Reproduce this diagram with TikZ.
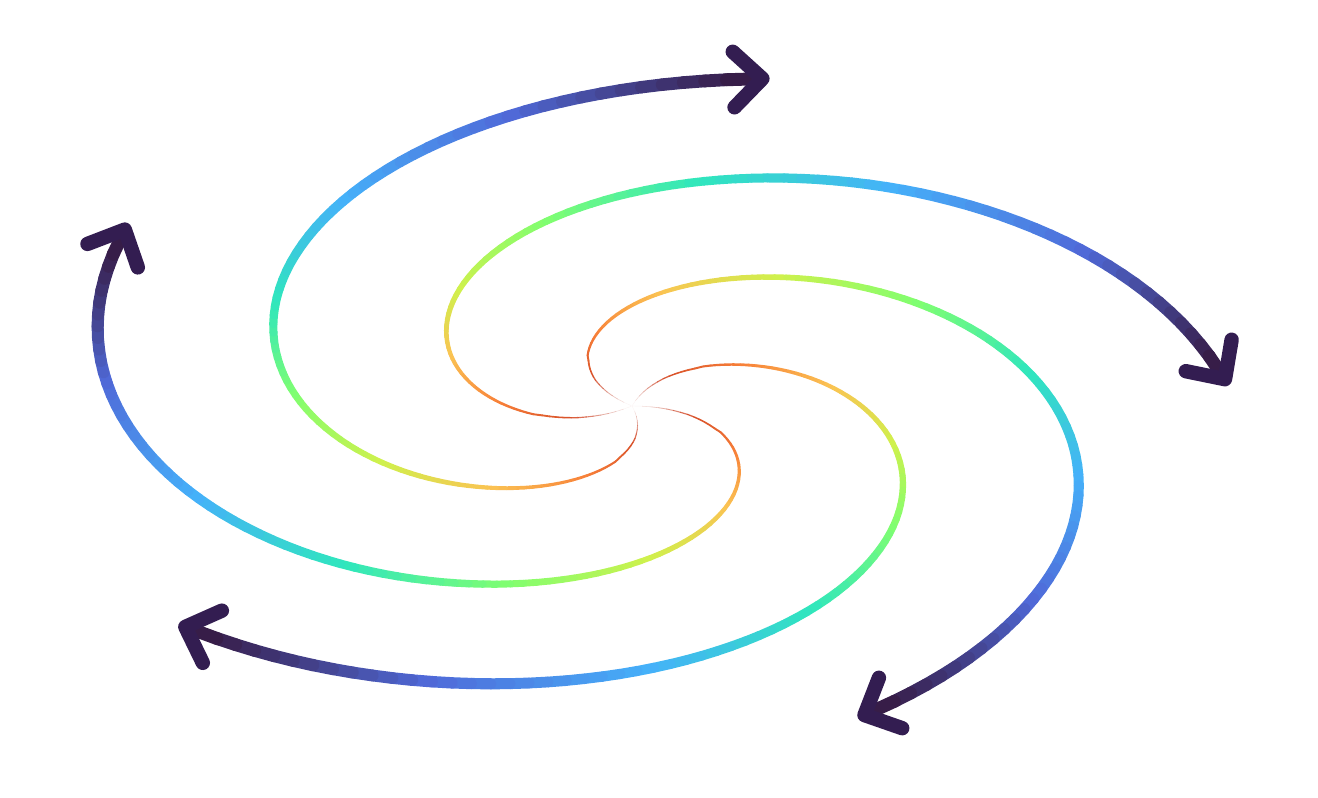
\documentclass[tikz,border=0pt]{standalone}
\usepackage{xcolor}
\usepackage{tikz}
\usetikzlibrary{calc}

% turbo colour map, dark end first
\definecolor{tb0}{HTML}{30123B}
\definecolor{tb1}{HTML}{4662D7}
\definecolor{tb2}{HTML}{36AAF9}
\definecolor{tb3}{HTML}{1AE4B6}
\definecolor{tb4}{HTML}{72FE5E}
\definecolor{tb5}{HTML}{C8EF34}
\definecolor{tb6}{HTML}{FABA39}
\definecolor{tb7}{HTML}{F66B19}
\definecolor{tb8}{HTML}{CB2A04}
\definecolor{tb9}{HTML}{7A0403}
\colorlet{tipcol}{tb1!14!tb0}

% point of a spiral arm: #1 = t in [0,1], #2 = start angle, #3 = name
\newcommand{\armpt}[3]{%
  \pgfmathsetmacro{\spr}{pow(#1,0.88)}%
  \pgfmathsetmacro{\spa}{#2-209*#1}%
  \coordinate (#3) at ({6.32+5.89*\spr*cos(\spa)},{3.92+3.335*\spr*sin(\spa)});%
}

\begin{document}
\begin{tikzpicture}[
    arm/.style={line cap=round},
    barb/.style={draw=tipcol, line width=4.1pt,
                 line cap=round, line join=round}
]
    \useasboundingbox (0,0) rectangle (13.18,7.98);

    % five arms, drawn piece by piece
    \foreach \arm in {0,...,4}{
        \pgfmathsetmacro{\phiz}{215.6+72*\arm}
        \foreach \seg in {1,...,100}{
            \pgfmathsetmacro{\tA}{max(\seg-1,0.05)/100}
            \pgfmathsetmacro{\tB}{\seg/100}
            \pgfmathsetmacro{\tM}{(\seg-0.5)/100}
            \pgfmathsetmacro{\cv}{8.55*(1-\tM)}
            \pgfmathtruncatemacro{\cj}{floor(\cv)}
            \pgfmathtruncatemacro{\cjj}{\cj+1}
            \pgfmathsetmacro{\cp}{100*(\cv-\cj)}
            \pgfmathsetmacro{\cw}{86+11*\tM*\tM}
            \colorlet{segcol}{tb\cjj!\cp!tb\cj}
            \colorlet{segcol}{segcol!\cw!white}
            \pgfmathsetmacro{\lw}{0.1+3.6*\tM}
            \pgfmathsetmacro{\op}{min(1,12*\tM)}
            \armpt{\tA}{\phiz}{p}
            \armpt{\tB}{\phiz}{q}
            \draw[arm, draw=segcol, line width=\lw pt, draw opacity=\op] (p) -- (q);
        }
        % arrow head at the outer end
        \armpt{0.99}{\phiz}{d}
        \armpt{1}{\phiz}{e}
        \draw[barb] let \p1=($(e)-(d)$), \n1={atan2(\y1,\x1)} in
            ($(e)+(\n1:0.14)+(\n1+136:0.40)$) -- ($(e)+(\n1:0.14)$)
            -- ($(e)+(\n1:0.14)+(\n1-136:0.40)$);
    }
\end{tikzpicture}
\end{document}
